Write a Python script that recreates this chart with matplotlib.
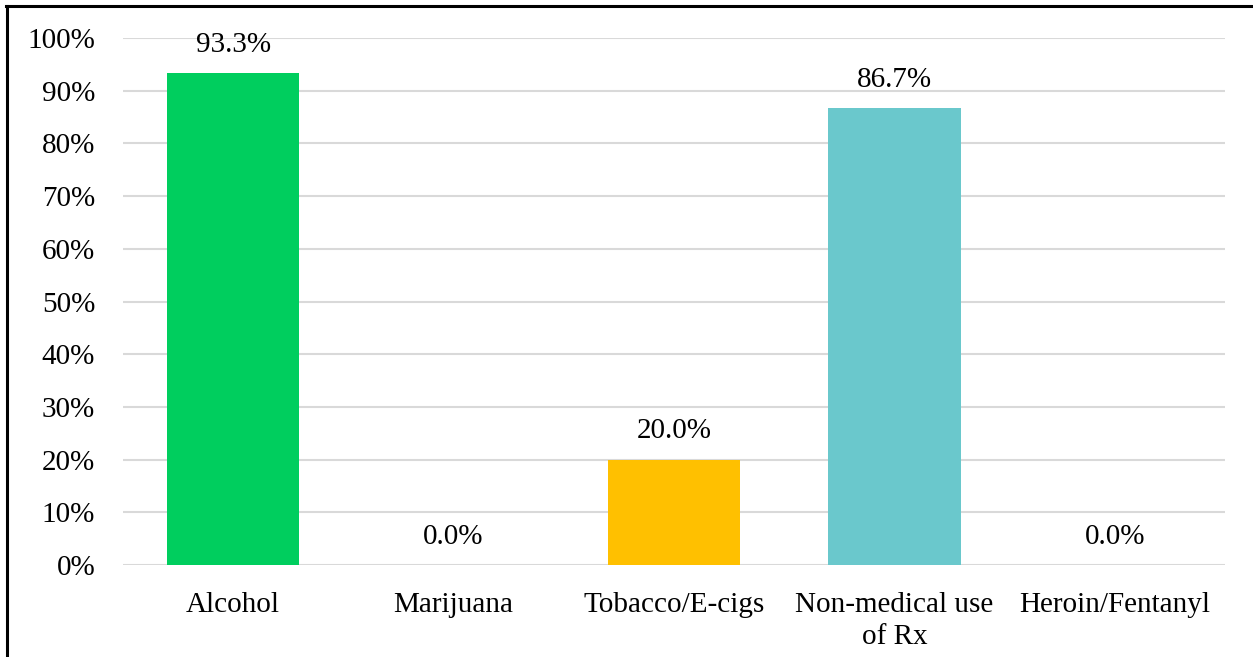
import matplotlib.pyplot as plt
from matplotlib.lines import Line2D

categories = ['Alcohol', 'Marijuana', 'Tobacco/E-cigs', 'Non-medical use\nof Rx', 'Heroin/Fentanyl']
values = [93.3, 0.0, 20.0, 86.7, 0.0]
colors = ['#00CE5E', '#00CE5E', '#FFC000', '#6AC8CC', '#6AC8CC']
yticks = [0, 10, 20, 30, 40, 50, 60, 70, 80, 90, 100]

plt.rcParams['font.family'] = ['Liberation Serif', 'DejaVu Serif']

fig = plt.figure(figsize=(12.53, 6.57), dpi=100)
ax = fig.add_axes([123/1253, (657-565)/657, (1225-123)/1253, (565-38)/657])

x = range(len(categories))
ax.bar(x, values, width=0.6, color=colors, zorder=3)

# value labels over each bar
for xi, v in zip(x, values):
    ax.annotate(f'{v:.1f}%', (xi, v), xytext=(0, 20.5), textcoords='offset points',
                ha='center', va='center', fontsize=21, color='#000000')

ax.set_xlim(-0.5, len(categories) - 0.5)
ax.set_ylim(0, 100)
ax.set_yticks(yticks)
ax.set_yticklabels([f'{t}%' for t in yticks])
ax.set_xticks(list(x))
ax.set_xticklabels(categories, linespacing=1.3)
ax.yaxis.grid(True, color='#D9D9D9', linewidth=1.5, zorder=0)
ax.set_axisbelow(True)
for s in ax.spines.values():
    s.set_visible(False)
ax.tick_params(axis='both', length=0, labelsize=21, colors='#000000')
ax.tick_params(axis='y', pad=20)
ax.tick_params(axis='x', pad=19.5)

# frame lines along the top and left edges
fig.add_artist(Line2D([6/1253, 1], [1-6/657, 1-6/657], transform=fig.transFigure, color='black', linewidth=2.2))
fig.add_artist(Line2D([7/1253, 7/1253], [0, 1-6/657], transform=fig.transFigure, color='black', linewidth=2.2))

fig.savefig('out.png', dpi=100)
